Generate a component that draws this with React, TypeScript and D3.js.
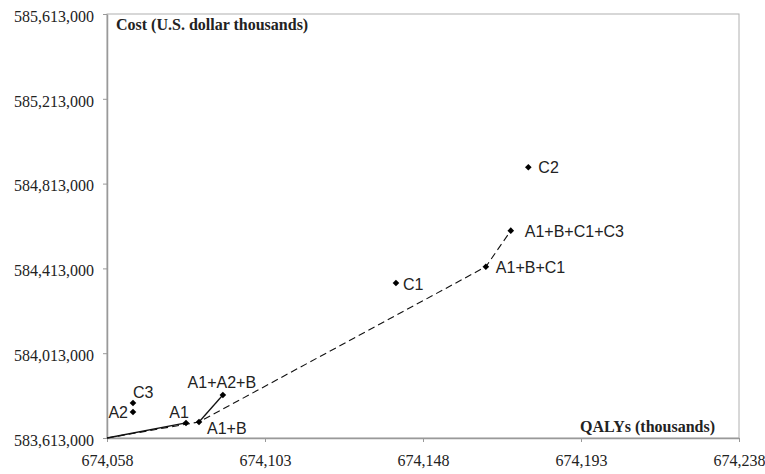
import React, { useEffect, useRef } from 'react';
import * as d3 from 'd3';

// points (QALYs thousands, cost $ thousands)
const pointNames = ['A1', 'A1+B', 'A1+A2+B', 'A2', 'C3', 'C1', 'A1+B+C1', 'A1+B+C1+C3', 'C2'];
const qalys = [674080.5, 674084.2, 674091.0, 674065.4, 674065.4, 674140.3, 674165.9, 674173.0, 674178.0];
const costs = [583684000, 583688500, 583815800, 583735600, 583778000, 584344000, 584421000, 584591000, 584890000];

const xTicks = [674058, 674103, 674148, 674193, 674238];
const yTicks = [583613000, 584013000, 584413000, 584813000, 585213000, 585613000];

// frontier lines: solid and dashed, names reference points ('O' = origin)
const solidLines = [['O', 'A1'], ['A1+B', 'A1+A2+B']];
const dashedLine = ['O', 'A1+B', 'A1+B+C1', 'A1+B+C1+C3'];

// label offsets per point
const labelPos: Record<string, [number, number, string]> = {
  'A1': [-7, -5, 'middle'],
  'A1+B': [8, 12, 'start'],
  'A1+A2+B': [-1, -7, 'middle'],
  'A2': [-5, 6, 'end'],
  'C3': [0, -5, 'start'],
  'C1': [7, 7, 'start'],
  'A1+B+C1': [10, 6, 'start'],
  'A1+B+C1+C3': [14, 6, 'start'],
  'C2': [10, 6, 'start'],
};

const App = () => {
  const ref = useRef<SVGSVGElement>(null);

  useEffect(() => {
    const svg = d3.select(ref.current);
    svg.selectAll('*').remove();

    const x = d3.scaleLinear().domain([xTicks[0], xTicks[xTicks.length - 1]]).range([107, 739]);
    const y = d3.scaleLinear().domain([yTicks[0], yTicks[yTicks.length - 1]]).range([438, 14]);
    const fmt = d3.format(',');
    const serif = '"Liberation Serif", "Times New Roman", serif';
    const sans = '"Liberation Sans", Arial, sans-serif';

    // frame
    svg.append('rect')
      .attr('x', x.range()[0]).attr('y', y.range()[1])
      .attr('width', x.range()[1] - x.range()[0])
      .attr('height', y.range()[0] - y.range()[1])
      .attr('fill', 'none').attr('stroke', '#b0b0b0').attr('stroke-width', 1);

    const yAxis = svg.append('g')
      .attr('transform', `translate(${x.range()[0]},0)`)
      .call(d3.axisLeft(y).tickValues(yTicks).tickSize(4).tickSizeOuter(0).tickPadding(9).tickFormat(d => fmt(d as number)));
    const xAxis = svg.append('g')
      .attr('transform', `translate(0,${y.range()[0]})`)
      .call(d3.axisBottom(x).tickValues(xTicks).tickSize(4).tickSizeOuter(0).tickPadding(13).tickFormat(d => fmt(d as number)));
    [yAxis, xAxis].forEach(g => {
      g.select('.domain').attr('stroke', '#999').attr('stroke-width', 1.5);
      g.selectAll('.tick line').attr('stroke', '#999');
      g.selectAll('.tick text').attr('font-family', serif).attr('font-size', 16).attr('fill', '#222');
    });
    yAxis.selectAll('.tick text').attr('dy', '0.45em');

    const pos = (n: string): [number, number] => {
      if (n === 'O') return [x(xTicks[0]), y(yTicks[0])];
      const i = pointNames.indexOf(n);
      return [x(qalys[i]), y(costs[i])];
    };
    const line = d3.line();

    solidLines.forEach(seg => {
      svg.append('path').attr('d', line(seg.map(pos)))
        .attr('fill', 'none').attr('stroke', '#111').attr('stroke-width', 1.3);
    });
    svg.append('path').attr('d', line(dashedLine.map(pos)))
      .attr('fill', 'none').attr('stroke', '#111').attr('stroke-width', 1.1)
      .attr('stroke-dasharray', '7,4');

    // square rotated 45° gives the flat diamond marker of the original
    const diamond = d3.symbol().type(d3.symbolSquare).size(22);
    pointNames.forEach((n, i) => {
      const px = x(qalys[i]);
      const py = y(costs[i]);
      svg.append('path').attr('d', diamond())
        .attr('transform', `translate(${px},${py}) rotate(45)`).attr('fill', '#000');
      const [dx, dy, anchor] = labelPos[n];
      svg.append('text')
        .attr('x', px + dx).attr('y', py + dy)
        .attr('text-anchor', anchor)
        .attr('font-family', sans).attr('font-size', 16).attr('fill', '#222')
        .text(n);
    });

    svg.append('text')
      .attr('x', 116).attr('y', 30)
      .attr('font-family', serif).attr('font-size', 16).attr('font-weight', 'bold').attr('fill', '#222')
      .text('Cost (U.S. dollar thousands)');
    svg.append('text')
      .attr('x', 715).attr('y', 432).attr('text-anchor', 'end')
      .attr('font-family', serif).attr('font-size', 16).attr('font-weight', 'bold').attr('fill', '#222')
      .text('QALYs (thousands)');
  }, []);

  return <svg ref={ref} width={765} height={474} style={{ position: 'absolute', left: 0, top: 0 }} />;
};

export default App;
